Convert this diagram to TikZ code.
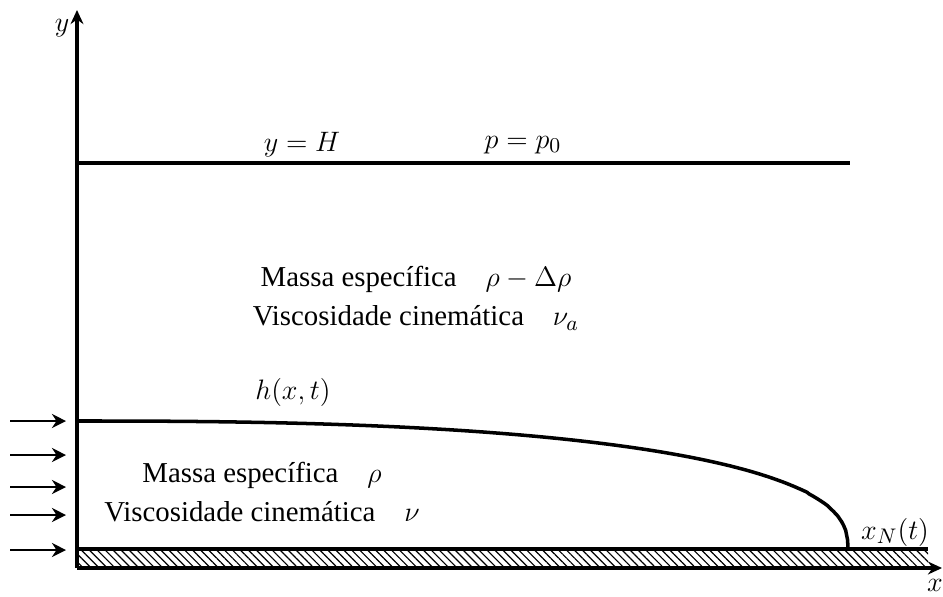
\documentclass[tikz,border=0pt,12pt]{standalone}
\usepackage[no-math]{fontspec}
\setmainfont{Liberation Serif}
\usepackage{tikz}
\usetikzlibrary{arrows.meta, patterns.meta}

\begin{document}
\begin{tikzpicture}[
  x=0.015cm, y=-0.015cm,
  font=\fontsize{12.3}{17}\selectfont,
  axis/.style={-{Stealth[length=6pt,width=5.5pt]}, line width=1.5pt},
  wall/.style={line width=1.5pt},
  inflow/.style={-{Stealth[length=6pt,width=6pt]}, line width=1.2pt},
  lab/.style={inner sep=1pt, align=center}
]
\useasboundingbox (0,0) rectangle (943,596);

% eixos
\coordinate (O) at (77,568);
\coordinate (ytip) at (77,10);
\coordinate (xtip) at (942,568);
\fill[pattern={Lines[angle=-45,distance=2.4pt,line width=0.5pt]}] (O) rectangle (928,549);
\draw[wall] (77,549) -- (928,549);
\draw[axis] (O) -- (ytip);
\draw[axis] (O) -- (xtip);
\node[lab] (ylab) at (62,28) {$y$};
\node[lab] (xlab) at (935,585) {$x$};

% fronteira superior
\draw[wall] (77,163) -- (850,163);
\node[lab] (H) at (302,145) {$y=H$};
\node[lab] (p0) at (523,145) {$p=p_0$};

% fluido ambiente
\node[lab] (amb) at (416,298) {Massa específica\quad$\rho-\Delta\rho$\\
  Viscosidade cinemática\quad$\nu_a$};

% interface h(x,t)
\draw[wall, line join=round] (77,421) -- plot[domain=0.001:0.99995, samples=400]
  ({77+771*\x}, {549-128*(1-(\x)^2.5)^0.4}) -- (848,549);
\node[lab] (h) at (293,392) {$h(x,t)$};
\node[lab] (xN) at (895,532) {$x_N(t)$};

% corrente de gravidade
\node[lab] (cur) at (262,492) {Massa específica\quad$\rho$\\
  Viscosidade cinemática\quad$\nu$};

% entrada de fluido
\foreach \yy [count=\i] in {421,455,487,515,550} {
  \coordinate (in\i) at (10,\yy);
  \coordinate (out\i) at (66,\yy);
  \draw[inflow] (in\i) -- (out\i);
}
\end{tikzpicture}
\end{document}
